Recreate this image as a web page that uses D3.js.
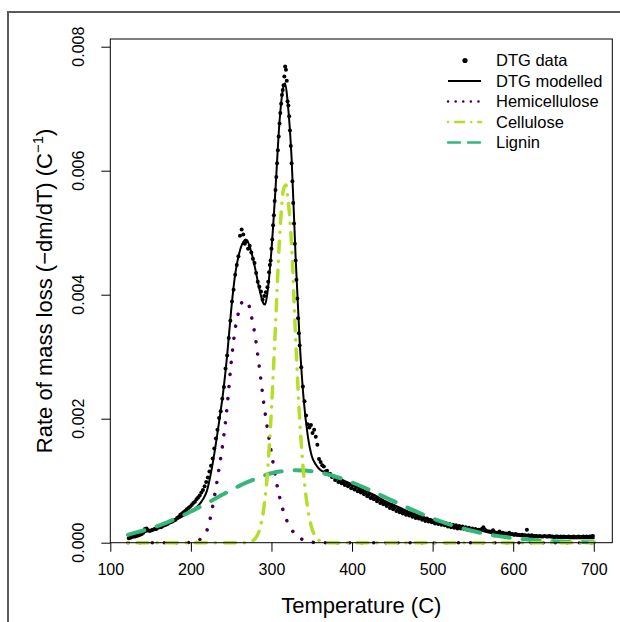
<!DOCTYPE html>
<html>
<head>
<meta charset="utf-8">
<script src="https://cdn.jsdelivr.net/npm/d3@7"></script>
<style>
  body { margin: 0; background: #fff; }
  svg { display: block; }
  text { font-family: "Liberation Sans", Arial, Helvetica, sans-serif; fill: #000; }
</style>
</head>
<body>
<div id="chart"></div>
<script>
// measured DTG points [temperature C, rate]
const dtgData = [
  [123,0.00007],[125,0.00008],[127,0.00009],[129,0.0001],[131,0.0001],[133,0.00011],[135,0.00012],[137,0.00013],
  [139,0.00014],[141,0.00016],[143,0.00022],[145,0.00023],[147,0.0002],[149,0.00019],[151,0.0002],[153,0.00021],
  [155,0.00022],[157,0.00022],[159,0.00024],[161,0.00025],[163,0.00025],[165,0.00027],[167,0.00028],[169,0.00029],
  [171,0.0003],[173,0.00032],[175,0.00033],[177,0.00034],[179,0.00036],[181,0.00037],[183,0.0004],[185,0.00042],
  [187,0.00045],[189,0.00047],[191,0.00049],[193,0.00051],[195,0.00054],[197,0.00056],[199,0.00058],[201,0.00061],
  [203,0.00064],[205,0.00066],[207,0.0007],[209,0.00073],[211,0.00076],[213,0.00081],[215,0.00085],[217,0.00091],
  [219,0.00098],[221,0.00105],[223,0.00115],[225,0.00124],[227,0.00136],[229,0.00152],[231,0.00168],[233,0.00182],
  [235,0.00201],[237,0.00212],[239,0.00232],[241,0.00251],[243,0.00281],[245,0.00302],[247,0.0033],[249,0.00358],
  [251,0.00389],[253,0.00408],[255,0.00432],[257,0.00448],[259,0.00462],[261,0.00495],[263,0.00505],[265,0.00497],
  [267,0.00482],[269,0.00486],[271,0.00474],[273,0.00479],[275,0.00468],[277,0.00458],[279,0.00451],[281,0.00435],
  [283,0.00421],[285,0.00413],[287,0.00405],[289,0.00392],[291,0.00398],[293,0.00404],[295,0.00412],
  [296,0.00421],[297,0.00436],[298,0.00448],[299,0.00455],[300,0.00474],[301,0.00489],[302,0.00512],[303,0.00528],
  [304,0.00551],[305,0.00569],[306,0.0059],[307,0.00612],[308,0.00633],[309,0.00655],[310,0.00676],[311,0.00693],
  [312,0.00708],[313,0.00722],[314,0.0073],[315,0.00738],[316,0.00752],[317,0.00768],[318,0.00763],[319,0.00745],
  [320,0.00712],[321,0.00705],[322,0.00688],[323,0.00665],[324,0.0064],[325,0.00612],[326,0.00583],[327,0.00548],
  [328,0.00515],[329,0.00482],[330,0.00455],[331,0.00424],[332,0.00394],[333,0.00362],[334,0.00338],
  [335,0.00318],[337,0.00283],[339,0.00252],[341,0.00228],[343,0.00205],[345,0.00191],[347,0.00186],[349,0.0019],
  [351,0.00177],[353,0.00182],[355,0.00171],[357,0.00158],[359,0.00135],[361,0.0013],[363,0.00125],[365,0.00123],
  [367,0.00115],[369,0.00116],[371,0.0011],[373,0.00111],[375,0.00106],[377,0.00107],[379,0.00101],[381,0.00104],
  [383,0.00098],[385,0.00101],[387,0.00096],[389,0.00098],[391,0.00093],[393,0.00096],[395,0.00091],[397,0.00094],
  [399,0.00088],[401,0.00092],[403,0.00086],[405,0.00089],[407,0.00083],[409,0.00086],[411,0.00081],[413,0.00083],
  [415,0.00078],[417,0.0008],[419,0.00075],[421,0.00078],[423,0.00072],[425,0.00075],[427,0.0007],[429,0.00072],
  [431,0.00067],[433,0.0007],[435,0.00064],[437,0.00067],[439,0.00062],[441,0.00064],[443,0.00059],[445,0.00062],
  [447,0.00056],[449,0.00059],[451,0.00054],[453,0.00057],[455,0.00051],[457,0.00054],[459,0.00049],[461,0.00052],
  [463,0.00047],[465,0.0005],[467,0.00045],[469,0.00048],[471,0.00044],[473,0.00047],[475,0.00042],[477,0.00045],
  [479,0.0004],[481,0.00043],[483,0.00039],[485,0.00042],[487,0.00037],[489,0.0004],[491,0.00035],[493,0.00039],
  [495,0.00034],[497,0.00037],[499,0.00033],[501,0.00036],[503,0.00031],[505,0.00035],[507,0.0003],[509,0.00033],
  [511,0.00029],[513,0.00032],[515,0.00028],[517,0.00031],[519,0.00026],[521,0.0003],[523,0.00025],[525,0.00029],
  [527,0.00024],[529,0.00028],[531,0.00023],[533,0.00027],[535,0.00023],[537,0.00026],[539,0.00022],[541,0.00025],
  [543,0.00021],[545,0.00024],[547,0.0002],[549,0.00023],[551,0.00019],[553,0.00022],[555,0.00019],[557,0.00021],
  [559,0.00018],[561,0.00022],[563,0.00025],[565,0.00021],[567,0.00019],[569,0.00018],[571,0.00018],[573,0.00017],
  [575,0.0002],[577,0.00017],[579,0.00016],[581,0.00016],[583,0.00018],[585,0.00015],[587,0.00016],[589,0.00015],
  [591,0.00015],[593,0.00014],[595,0.00016],[597,0.00014],[599,0.00014],[601,0.00013],[603,0.00014],[605,0.00013],
  [607,0.00013],[609,0.00012],[611,0.00013],[613,0.00012],[615,0.00012],[617,0.00021],[619,0.00012],[621,0.00011],
  [623,0.00012],[625,0.00011],[627,0.00011],[629,0.00011],[631,0.0001],[633,0.00011],[635,0.0001],[637,0.0001],
  [639,0.00011],[641,0.0001],[643,0.0001],[645,0.00011],[647,0.0001],[649,0.0001],[651,0.00009],[653,0.0001],
  [655,0.0001],[657,0.00009],[659,0.0001],[661,0.00009],[663,0.0001],[665,0.00009],[667,0.00009],[669,0.0001],
  [671,0.00009],[673,0.00009],[675,0.0001],[677,0.00009],[679,0.00009],[681,0.0001],[683,0.00009],[685,0.00009],
  [687,0.0001],[689,0.00009],[691,0.0001],[693,0.00009],[695,0.0001],[697,0.0001],[699,0.00011]
];

// modelled DTG curve
const modelTemp = [122,130,140,150,160,170,180,190,195,200,205,210,215,220,225,230,235,240,245,250,255,260,265,268,270,
  275,280,285,290,292,295,300,305,310,315,317,320,325,330,335,340,345,350,355,360,370,380,390,400,410,420,430,440,450,
  460,470,480,490,500,510,520,530,540,550,560,570,580,590,600,620,640,660,680,700];
const modelRate = [0.00009,0.00012,0.00016,0.0002,0.00025,0.0003,0.00036,0.00043,0.00047,0.00051,0.00055,0.00061,0.0007,
  0.00084,0.00113,0.00151,0.00195,0.00242,0.00302,0.00375,0.00433,0.00467,0.00485,0.00489,0.00487,
  0.00469,0.00441,0.00409,0.00386,0.00384,0.00403,0.00472,0.0057,0.00679,0.00736,0.00741,0.00712,0.0062,0.0046,0.00325,
  0.00231,0.00173,0.0014,0.00126,0.00118,0.00112,0.00106,0.001,0.00094,0.00088,0.00082,0.00075,0.00068,0.00062,
  0.00056,0.0005,0.00045,0.0004,0.00036,0.00032,0.00029,0.00026,0.00023,0.00021,0.00019,0.00017,0.00015,0.00014,0.00012,
  0.0001,0.00009,0.00008,0.00007,0.00007];

// hemicellulose component
const hemiTemp = [122,190,195,200,205,210,215,220,225,230,235,240,245,250,255,260,265,270,275,280,285,290,295,300,305,
  310,315,320,325,330,335,340,345,350,355,700];
const hemiRate = [0,0,0.000002,0.000005,0.00001,0.00004,0.0001,0.0002,0.00045,0.0008,0.0012,0.00164,0.0022,0.0029,
  0.00345,0.00375,0.0039,0.00389,0.00366,0.00331,0.00283,0.0023,0.00184,0.00145,0.00106,0.00074,0.0005,0.00033,0.00021,
  0.00013,0.00008,0.00004,0.00002,0.00001,0,0];

// cellulose component
const cellTemp = [122,265,270,275,280,285,290,295,300,305,310,315,318,320,325,330,335,340,345,350,355,360,365,370,700];
const cellRate = [0,0,0.000005,0.00002,0.00007,0.0002,0.00051,0.00112,0.00215,0.0035,0.0049,0.0057,0.00577,0.0056,
  0.0048,0.0033,0.002,0.0011,0.00055,0.00024,0.00009,0.00003,0.00001,0,0];

// lignin component
const ligninTemp = [122,130,140,150,160,170,180,190,200,210,220,230,240,250,260,270,280,290,300,310,320,330,340,350,
  360,370,380,390,400,410,420,430,440,450,460,470,480,490,500,510,520,530,540,550,560,570,580,590,600,610,620,630,640,
  650,660,670,680,690,700];
const ligninRate = [0.000125,0.000158,0.000192,0.000232,0.000276,0.000325,0.00038,0.000439,0.000503,0.00057,0.000639,
  0.00071,0.00078,0.00085,0.000916,0.000977,0.00103,0.00108,0.00112,0.001147,0.001164,0.00117,0.001166,0.001152,
  0.001131,0.001101,0.001064,0.001021,0.000972,0.000918,0.000861,0.000801,0.00074,0.000679,0.000617,0.000558,0.0005,
  0.000444,0.000392,0.000344,0.000299,0.000258,0.000221,0.000188,0.000158,0.000133,0.00011,0.000091,0.000074,0.00006,
  0.000049,0.000039,0.000031,0.000024,0.000019,0.000015,0.000011,0.000009,0.000007];

const xTicks = [100, 200, 300, 400, 500, 600, 700];
const yTicks = [0, 0.002, 0.004, 0.006, 0.008];
const legendLabels = ["DTG data", "DTG modelled", "Hemicellulose", "Cellulose", "Lignin"];

const width = 620, height = 622;

const svg = d3.select("#chart").append("svg")
  .attr("width", width)
  .attr("height", height);

svg.append("rect").attr("width", width).attr("height", height).attr("fill", "#fff");

// grey figure frame, runs off the right and bottom edges
svg.append("rect")
  .attr("x", 8).attr("y", 12).attr("width", 700).attr("height", 700)
  .attr("fill", "none").attr("stroke", "#5a5a5a").attr("stroke-width", 2);

const x = d3.scaleLinear().domain([100, 723]).range([110.3, 612.3]);
const y = d3.scaleLinear().domain([0, 0.008124]).range([542.7, 39]);

// styles for the curves
const styles = {
  model: { color: "#000", width: 2, dash: null },
  hemi: { color: "#440154", width: 3.5, dash: "0.1 12" },
  cell: { color: "#B5DE2B", width: 3.5, dash: "0.1 9 11 9" },
  lignin: { color: "#35B779", width: 4, dash: "17 13" }
};

const line = d3.line()
  .x(d => x(d[0]))
  .y(d => y(d[1]))
  .curve(d3.curveMonotoneX);

// data points
svg.append("g").selectAll("circle")
  .data(dtgData)
  .join("circle")
  .attr("cx", d => x(d[0]))
  .attr("cy", d => y(d[1]))
  .attr("r", 2)
  .attr("fill", "#000");

function drawCurve(temps, rates, st) {
  svg.append("path")
    .datum(d3.zip(temps, rates))
    .attr("d", line)
    .attr("fill", "none")
    .attr("stroke", st.color)
    .attr("stroke-width", st.width)
    .attr("stroke-linecap", "round")
    .attr("stroke-linejoin", "round")
    .attr("stroke-dasharray", st.dash);
}

drawCurve(modelTemp, modelRate, styles.model);
drawCurve(hemiTemp, hemiRate, styles.hemi);
drawCurve(ligninTemp, ligninRate, styles.lignin);
drawCurve(cellTemp, cellRate, styles.cell);

// plot box
svg.append("rect")
  .attr("x", x(100)).attr("y", y.range()[1])
  .attr("width", x(723) - x(100)).attr("height", y.range()[0] - y.range()[1])
  .attr("fill", "none").attr("stroke", "#000").attr("stroke-width", 1);

// x axis
const xAxis = svg.append("g")
  .attr("transform", `translate(0,${y(0)})`)
  .call(d3.axisBottom(x).tickValues(xTicks).tickSize(9).tickSizeOuter(0).tickPadding(12));
xAxis.select(".domain").remove();
xAxis.selectAll("line").attr("stroke", "#000");
xAxis.selectAll("text").attr("font-size", 16).attr("font-family", null);

// y axis (labels parallel to the axis, like base R)
const yAxis = svg.append("g")
  .attr("transform", `translate(${x(100)},0)`)
  .call(d3.axisLeft(y).tickValues(yTicks).tickSize(9).tickSizeOuter(0).tickFormat(""));
yAxis.select(".domain").remove();
yAxis.selectAll("line").attr("stroke", "#000");

svg.append("g").selectAll("text")
  .data(yTicks)
  .join("text")
  .attr("transform", d => `translate(84,${y(d)}) rotate(-90)`)
  .attr("text-anchor", "middle")
  .attr("font-size", 16)
  .text(d3.format(".3f"));

// axis titles
svg.append("text")
  .attr("x", (x(100) + x(723)) / 2)
  .attr("y", 613)
  .attr("text-anchor", "middle")
  .attr("font-size", 22)
  .text("Temperature (C)");

const yTitle = svg.append("text")
  .attr("transform", `translate(52,${(y.range()[0] + y.range()[1]) / 2}) rotate(-90)`)
  .attr("text-anchor", "middle")
  .attr("font-size", 22);
yTitle.append("tspan").text("Rate of mass loss (\u2212dm/dT) (C");
yTitle.append("tspan").attr("font-size", 15).attr("dy", -9).text("\u22121");
yTitle.append("tspan").attr("dy", 9).text(")");

// legend
const legend = svg.append("g").attr("transform", "translate(448,60.5)");
const legendStyles = [null, styles.model, styles.hemi, styles.cell, styles.lignin];
legendLabels.forEach((lab, i) => {
  const row = legend.append("g").attr("transform", `translate(0,${i * 20.5})`);
  if (i === 0) {
    row.append("circle").attr("cx", 17).attr("cy", 0).attr("r", 2.6).attr("fill", "#000");
  } else {
    const st = legendStyles[i];
    row.append("line")
      .attr("x1", 0).attr("x2", 33).attr("y1", 0).attr("y2", 0)
      .attr("stroke", st.color)
      .attr("stroke-width", i === 1 ? 2 : 2.5)
      .attr("stroke-linecap", i === 1 ? "butt" : "round")
      .attr("stroke-dasharray", i === 2 ? "0.1 7.5" : i === 3 ? "0.1 7 9 7" : i === 4 ? "12 8" : null);
  }
  row.append("text")
    .attr("x", 48)
    .attr("y", 0)
    .attr("dy", "0.35em")
    .attr("font-size", 16.5)
    .text(lab);
});
</script>
</body>
</html>
